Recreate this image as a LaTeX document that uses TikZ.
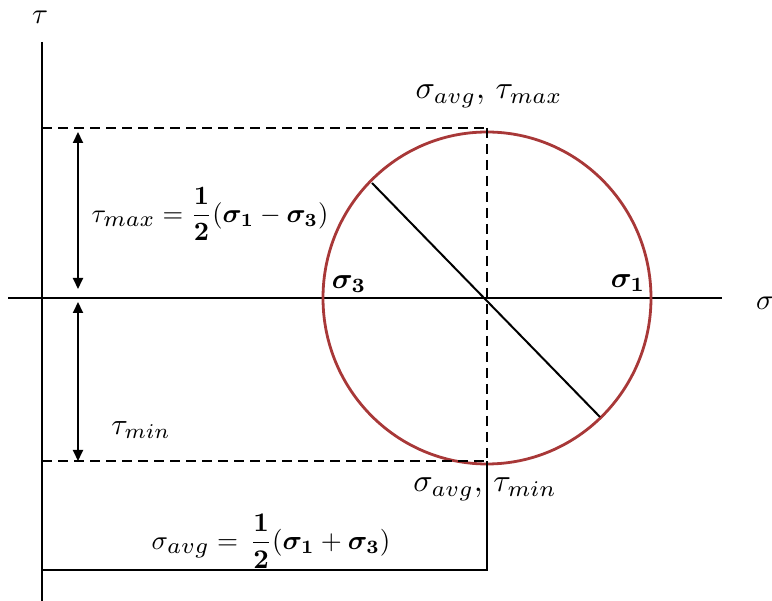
\documentclass[tikz,border=0pt]{standalone}
\usepackage{graphicx}
\usepackage{amsmath,bm}
\usetikzlibrary{arrows.meta}
\definecolor{circred}{RGB}{168,56,56}
\newcommand{\lblsc}[2]{\scalebox{#1}{$#2$}}
\newcommand{\bigsub}[1]{\scalebox{1.2}{$\scriptstyle #1$}}
\tikzset{
  axis/.style={line width=2pt,black},
  dashline/.style={line width=2pt,dash pattern=on 10pt off 6pt},
  dimarrow/.style={line width=2pt,{Triangle[length=11pt,width=10pt]}-{Triangle[length=11pt,width=10pt]}},
  lbl/.style={inner sep=0pt},
}
\begin{document}
\begin{tikzpicture}[x=1pt,y=-1pt]
\useasboundingbox (0,0) rectangle (772,601);
% coordinates
\coordinate (tautop) at (42,42);
\coordinate (taubot) at (42,601);
\coordinate (sigL) at (8,298);
\coordinate (sigR) at (722,298);
\coordinate (C) at (487,298);
\coordinate (Ctop) at (487,128);
\coordinate (Cbot) at (487,461);
\coordinate (Ltop) at (42,128);
\coordinate (Lbot) at (42,461);
\coordinate (Aup) at (78,128);
\coordinate (Amid) at (78,298);
\coordinate (Alow) at (78,461);
\coordinate (Bl) at (42,570);
\coordinate (Br) at (487,570);
\coordinate (D1) at (372,183);
\coordinate (D2) at (600,417);
% axes
\draw[axis] (tautop) -- (taubot);
\draw[axis] (sigL) -- (sigR);
% circle
\draw[circred,line width=2.8pt] (C) ellipse [x radius=164,y radius=166];
% dashed
\draw[dashline] (Ltop) -- (Ctop);
\draw[dashline] (Lbot) -- (Cbot);
\draw[dashline] (Ctop) -- (Cbot);
% diameter
\draw[line width=2pt] (D1) -- (D2);
% dimension arrows
\draw[dimarrow,shorten <=4pt,shorten >=9pt] (Aup) -- (Amid);
\draw[dimarrow,shorten <=4pt,shorten >=0pt] (Amid) -- (Alow);
% bottom bracket
\draw[line width=2pt] (Bl) -- (Br) -- (Cbot);
% labels
\node[lbl] (ltau) at (40,17) {\lblsc{2.9}{\tau}};
\node[lbl] (lsig) at (765,303) {\lblsc{2.9}{\sigma}};
\node[lbl] (ltop) at (489,96) {\lblsc{3.2}{\sigma_{avg},\,\tau_{max}}};
\node[lbl] (lbot) at (485,489) {\lblsc{3.2}{\sigma_{avg},\,\tau_{min}}};
\node[lbl] (lsig3) at (349,284) {\lblsc{2.9}{\bm{\sigma_3}}};
\node[lbl] (lsig1) at (628,283) {\lblsc{2.9}{\bm{\sigma_1}}};
\node[lbl] (ltmax) at (210,214) {\lblsc{2.65}{\tau_{\bigsub{max}}=\dfrac{\mathbf{1}}{\mathbf{2}}(\bm{\sigma_1}-\bm{\sigma_3})}};
\node[lbl] (ltmin) at (141,430) {\lblsc{3.0}{\tau_{min}}};
\node[lbl] (lavg) at (271,541) {\lblsc{2.7}{\sigma_{\bigsub{avg}}=\,\dfrac{\mathbf{1}}{\mathbf{2}}(\bm{\sigma_1}+\bm{\sigma_3})}};
\end{tikzpicture}
\end{document}
